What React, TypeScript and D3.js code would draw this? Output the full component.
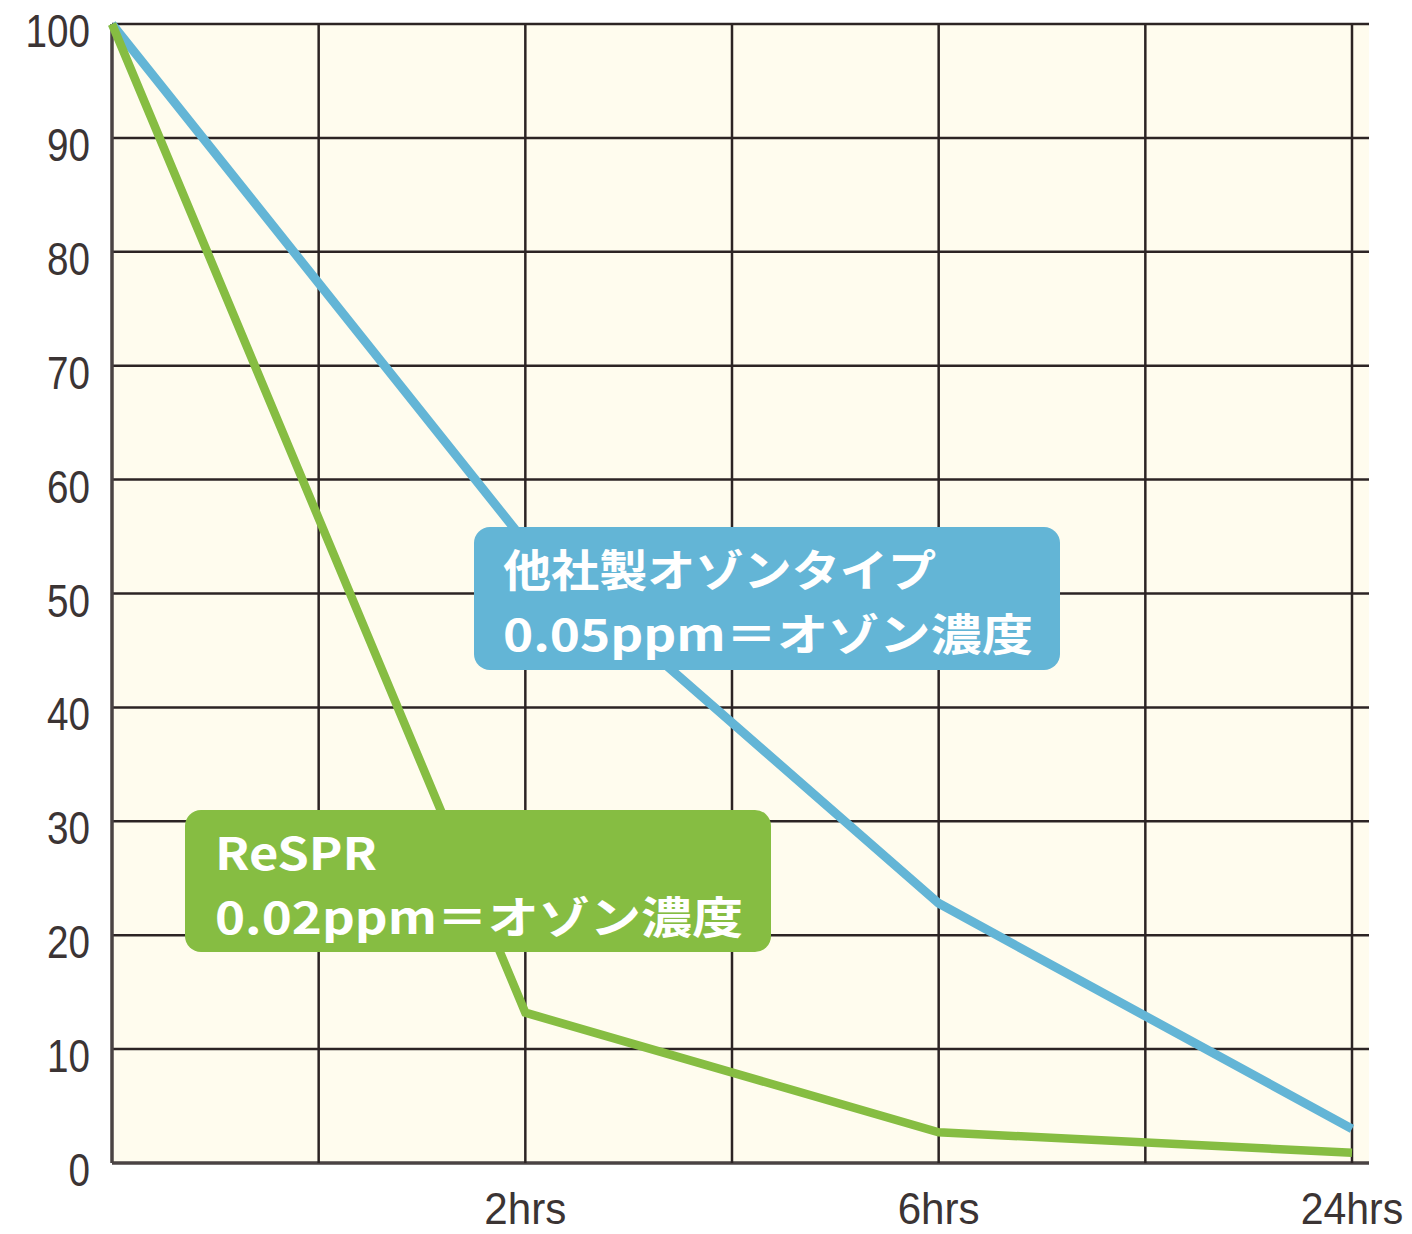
import React from "react";
import * as d3 from "d3";

// ---- data ----
const xTickLabels = ["", "", "2hrs", "", "6hrs", "", "24hrs"];
const yTicks = [0, 10, 20, 30, 40, 50, 60, 70, 80, 90, 100];
const timeIndex = [0, 2, 4, 6];
const competitorValues = [100, 54.5, 22.8, 3.0];
const resprValues = [100, 13.2, 2.7, 0.9];
const competitorLabel = ["他社製オゾンタイプ", "0.05ppm＝オゾン濃度"];
const resprLabel = ["ReSPR", "0.02ppm＝オゾン濃度"];

const W = 1412;
const H = 1234;
const left = 112;
const right = 1352;
const extRight = 1369;
const top = 24;
const bottom = 1163;

const BLUE = "#63B5D6";
const GREEN = "#86BD42";
const GRID = "#2c2424";
const TEXT = "#3b3434";

function LabelBox(props: {
  x: number;
  y: number;
  w: number;
  h: number;
  fill: string;
  lines: string[];
  lengths: number[];
  tx: number;
  baselines: number[];
  font: string;
}) {
  const { x, y, w, h, fill, lines, lengths, tx, baselines, font } = props;
  return (
    <g>
      <rect x={x} y={y} width={w} height={h} rx={16} ry={16} fill={fill} />
      {lines.map((l, i) => (
        <text
          key={i}
          x={tx}
          y={baselines[i]}
          fontFamily={font}
          fontWeight={700}
          fontSize={44}
          fill="#ffffff"
          textLength={lengths[i]}
          lengthAdjust="spacingAndGlyphs"
        >
          {l}
        </text>
      ))}
    </g>
  );
}

export default function App() {
  const x = d3.scaleLinear().domain([0, xTickLabels.length - 1]).range([left, right]);
  const y = d3.scaleLinear().domain([0, 100]).range([bottom, top]);

  const line = d3
    .line<[number, number]>()
    .x((d) => x(d[0]))
    .y((d) => y(d[1]));

  const blueData = timeIndex.map((t, i) => [t, competitorValues[i]] as [number, number]);
  const greenData = timeIndex.map((t, i) => [t, resprValues[i]] as [number, number]);

  const tickFont = "'Liberation Sans', Arial, sans-serif";
  const boxFont = "'Noto Sans CJK JP', 'Noto Sans', sans-serif";
  const charW = 21.5;

  return (
    <svg
      width={W}
      height={H}
      style={{ position: "absolute", left: 0, top: 0, background: "#ffffff" }}
    >
      {/* plot background */}
      <rect x={left} y={top} width={extRight - left} height={bottom - top} fill="#FFFCEE" />

      {/* horizontal grid */}
      {yTicks.map((t) => (
        <line
          key={"h" + t}
          x1={left}
          x2={extRight}
          y1={y(t)}
          y2={y(t)}
          stroke={t === 0 ? "#4a4343" : GRID}
          strokeWidth={t === 0 ? 3.5 : 2.5}
        />
      ))}
      {/* vertical grid */}
      {xTickLabels.map((_, i) => (
        <line
          key={"v" + i}
          x1={x(i)}
          x2={x(i)}
          y1={top}
          y2={bottom}
          stroke={i === 0 ? "#4a4343" : GRID}
          strokeWidth={i === 0 ? 3.5 : 2.5}
        />
      ))}

      {/* y tick labels */}
      {yTicks.map((t) => {
        const s = String(t);
        const len = s.length * charW;
        return (
          <text
            key={"yl" + t}
            x={90 - len}
            y={y(t) + 23}
            fontFamily={tickFont}
            fontSize={47}
            fill={TEXT}
            textLength={len}
            lengthAdjust="spacingAndGlyphs"
          >
            {s}
          </text>
        );
      })}
      {/* x tick labels */}
      {xTickLabels.map((l, i) => {
        if (!l) return null;
        const len = l.length * 20.5;
        return (
          <text
            key={"xl" + i}
            x={x(i) - len / 2}
            y={1224}
            fontFamily={tickFont}
            fontSize={45}
            fill={TEXT}
            textLength={len}
            lengthAdjust="spacingAndGlyphs"
          >
            {l}
          </text>
        );
      })}

      {/* series */}
      <path d={line(blueData) || ""} fill="none" stroke={BLUE} strokeWidth={9} />
      <path d={line(greenData) || ""} fill="none" stroke={GREEN} strokeWidth={8.5} />

      {/* label boxes */}
      <LabelBox
        x={474}
        y={527}
        w={586}
        h={143}
        fill={BLUE}
        lines={competitorLabel}
        lengths={[433, 530]}
        tx={503}
        baselines={[586.5, 651]}
        font={boxFont}
      />
      <LabelBox
        x={185}
        y={810}
        w={586}
        h={142}
        fill={GREEN}
        lines={resprLabel}
        lengths={[162, 528]}
        tx={215}
        baselines={[869.5, 934]}
        font={boxFont}
      />
    </svg>
  );
}
